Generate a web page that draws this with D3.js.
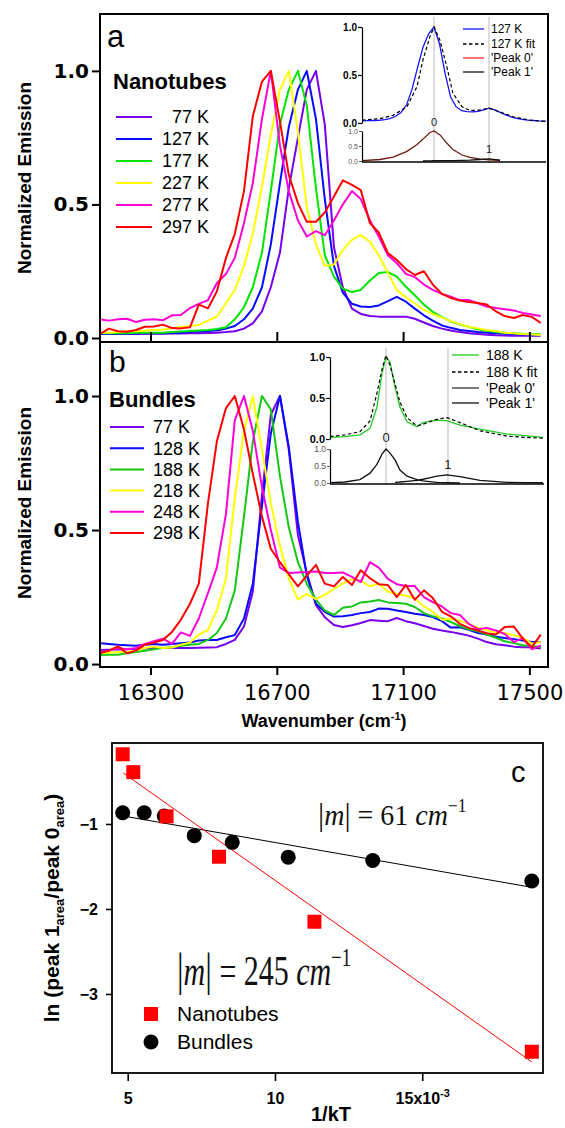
<!DOCTYPE html>
<html>
<head>
<meta charset="utf-8">
<script src="https://cdnjs.cloudflare.com/ajax/libs/d3/7.8.5/d3.min.js"></script>
<style>
  body { margin: 0; background: #fff; }
  svg { display: block; }
</style>
</head>
<body>
<svg id="chart" width="565" height="1128"></svg>
<script>
const svg = d3.select('#chart');

const sans = '"Liberation Sans", Arial, sans-serif';
const wide = '"DejaVu Sans", Verdana, sans-serif';
const serif = '"Liberation Serif", "Times New Roman", serif';

// ---------- data ----------
// shared wavenumber grid (cm-1) for the emission spectra
const wavenumber = [16140, 16168, 16197, 16225, 16254, 16282, 16311, 16339, 16368, 16396,
  16425, 16453, 16482, 16510, 16539, 16567, 16596, 16624, 16653, 16681,
  16710, 16738, 16767, 16795, 16824, 16852, 16881, 16909, 16938, 16966,
  16995, 17023, 17052, 17080, 17109, 17137, 17166, 17194, 17223, 17251,
  17280, 17308, 17337, 17365, 17394, 17422, 17451, 17479, 17508, 17536];

// panel a: nanotubes
const tubeLabels = ['77 K', '127 K', '177 K', '227 K', '277 K', '297 K'];
const tube77 = [0.015, 0.015, 0.015, 0.015, 0.015, 0.016, 0.016, 0.016, 0.017, 0.017,
  0.018, 0.018, 0.019, 0.02, 0.022, 0.025, 0.035, 0.055, 0.10, 0.19,
  0.32, 0.56, 0.75, 0.93, 1.0, 0.80, 0.34, 0.19, 0.11, 0.09,
  0.082, 0.08, 0.08, 0.08, 0.08, 0.072, 0.058, 0.045, 0.035, 0.028,
  0.022, 0.018, 0.015, 0.012, 0.01, 0.009, 0.008, 0.008, 0.008, 0.008];
const tube127 = [0.015, 0.015, 0.016, 0.016, 0.017, 0.017, 0.018, 0.018, 0.019, 0.02,
  0.022, 0.024, 0.026, 0.028, 0.035, 0.045, 0.07, 0.11, 0.19, 0.35,
  0.58, 0.79, 0.93, 1.0, 0.82, 0.52, 0.27, 0.17, 0.128, 0.118,
  0.116, 0.122, 0.138, 0.154, 0.136, 0.11, 0.085, 0.065, 0.047, 0.038,
  0.03, 0.026, 0.022, 0.02, 0.018, 0.016, 0.015, 0.013, 0.012, 0.011];
const tube177 = [0.018, 0.018, 0.018, 0.018, 0.02, 0.02, 0.02, 0.02, 0.022, 0.024,
  0.026, 0.028, 0.03, 0.034, 0.04, 0.07, 0.115, 0.19, 0.32, 0.55,
  0.80, 0.93, 1.0, 0.87, 0.56, 0.31, 0.23, 0.185, 0.172, 0.18,
  0.215, 0.243, 0.247, 0.23, 0.192, 0.16, 0.125, 0.098, 0.078, 0.062,
  0.05, 0.042, 0.033, 0.027, 0.022, 0.02, 0.018, 0.016, 0.015, 0.014];
const tube227 = [0.02, 0.02, 0.022, 0.025, 0.025, 0.027, 0.03, 0.032, 0.036, 0.041,
  0.045, 0.049, 0.065, 0.08, 0.13, 0.18, 0.27, 0.39, 0.566, 0.76,
  0.93, 1.0, 0.77, 0.49, 0.35, 0.27, 0.275, 0.33, 0.367, 0.386,
  0.36, 0.31, 0.243, 0.18, 0.152, 0.13, 0.105, 0.09, 0.076, 0.063,
  0.052, 0.042, 0.036, 0.03, 0.026, 0.02, 0.018, 0.015, 0.013, 0.011];
const tube277 = [0.07, 0.065, 0.07, 0.072, 0.06, 0.068, 0.07, 0.066, 0.085, 0.086,
  0.112, 0.128, 0.142, 0.205, 0.24, 0.30, 0.43, 0.58, 0.82, 1.0,
  0.72, 0.55, 0.44, 0.38, 0.40, 0.385, 0.44, 0.50, 0.55, 0.52,
  0.44, 0.38, 0.31, 0.28, 0.24, 0.228, 0.20, 0.18, 0.165, 0.155,
  0.142, 0.142, 0.13, 0.118, 0.112, 0.108, 0.103, 0.094, 0.088, 0.082];
const tube297 = [0.015, 0.035, 0.025, 0.023, 0.03, 0.042, 0.043, 0.05, 0.037, 0.036,
  0.04, 0.125, 0.111, 0.174, 0.30, 0.39, 0.55, 0.83, 0.96, 1.0,
  0.81, 0.61, 0.505, 0.435, 0.435, 0.47, 0.53, 0.59, 0.573, 0.554,
  0.43, 0.395, 0.318, 0.292, 0.258, 0.236, 0.25, 0.20, 0.165, 0.15,
  0.14, 0.135, 0.131, 0.125, 0.10, 0.082, 0.075, 0.086, 0.079, 0.056];

// panel b: bundles
const bundleLabels = ['77 K', '128 K', '188 K', '218 K', '248 K', '298 K'];
const bundle77 = [0.052, 0.053, 0.054, 0.055, 0.056, 0.058, 0.06, 0.06, 0.06, 0.06,
  0.06, 0.061, 0.062, 0.063, 0.075, 0.09, 0.14, 0.27, 0.63, 0.93,
  1.0, 0.80, 0.48, 0.34, 0.22, 0.175, 0.146, 0.138, 0.145, 0.153,
  0.164, 0.162, 0.16, 0.172, 0.16, 0.152, 0.142, 0.132, 0.125, 0.12,
  0.113, 0.106, 0.095, 0.082, 0.074, 0.07, 0.065, 0.063, 0.063, 0.058];
const bundle128 = [0.078, 0.075, 0.072, 0.07, 0.068, 0.072, 0.075, 0.072, 0.075, 0.078,
  0.08, 0.088, 0.09, 0.09, 0.1, 0.108, 0.17, 0.30, 0.59, 0.86,
  1.0, 0.81, 0.53, 0.33, 0.225, 0.195, 0.177, 0.178, 0.183, 0.19,
  0.194, 0.207, 0.206, 0.2, 0.194, 0.188, 0.183, 0.175, 0.16, 0.136,
  0.137, 0.128, 0.116, 0.11, 0.102, 0.097, 0.093, 0.088, 0.082, 0.082];
const bundle188 = [0.034, 0.035, 0.035, 0.04, 0.045, 0.05, 0.055, 0.06, 0.063, 0.068,
  0.072, 0.075, 0.09, 0.116, 0.17, 0.275, 0.55, 0.83, 1.0, 0.95,
  0.70, 0.51, 0.38, 0.30, 0.24, 0.20, 0.183, 0.21, 0.215, 0.23,
  0.233, 0.239, 0.23, 0.228, 0.225, 0.213, 0.19, 0.178, 0.17, 0.157,
  0.142, 0.13, 0.122, 0.11, 0.098, 0.085, 0.078, 0.07, 0.067, 0.064];
const bundle218 = [0.04, 0.042, 0.045, 0.045, 0.05, 0.06, 0.065, 0.06, 0.062, 0.072,
  0.08, 0.11, 0.127, 0.20, 0.32, 0.62, 0.87, 1.0, 0.80, 0.60,
  0.44, 0.32, 0.24, 0.262, 0.242, 0.258, 0.28, 0.30, 0.317, 0.31,
  0.29, 0.30, 0.27, 0.262, 0.255, 0.245, 0.215, 0.195, 0.165, 0.17,
  0.162, 0.15, 0.137, 0.126, 0.118, 0.116, 0.108, 0.098, 0.076, 0.082];
const bundle248 = [0.045, 0.05, 0.06, 0.055, 0.06, 0.075, 0.085, 0.095, 0.075, 0.118,
  0.105, 0.17, 0.265, 0.36, 0.56, 0.91, 1.0, 0.87, 0.66, 0.50,
  0.36, 0.34, 0.342, 0.343, 0.345, 0.34, 0.34, 0.342, 0.325, 0.306,
  0.38, 0.36, 0.318, 0.298, 0.291, 0.291, 0.25, 0.231, 0.215, 0.19,
  0.183, 0.15, 0.13, 0.135, 0.125, 0.112, 0.082, 0.097, 0.055, 0.07];
const bundle298 = [0.04, 0.05, 0.066, 0.04, 0.05, 0.072, 0.08, 0.09, 0.12, 0.165,
  0.225, 0.30, 0.60, 0.83, 0.955, 1.0, 0.875, 0.71, 0.55, 0.43,
  0.38, 0.335, 0.29, 0.33, 0.37, 0.30, 0.29, 0.325, 0.295, 0.35,
  0.32, 0.298, 0.295, 0.25, 0.295, 0.24, 0.275, 0.246, 0.195, 0.178,
  0.15, 0.135, 0.125, 0.115, 0.11, 0.138, 0.14, 0.095, 0.063, 0.11];

const tempColors = ['#7800ee', '#0a0aff', '#00e600', '#ffff00', '#ff00d8', '#ff0000'];
const tempColorsB = ['#7800ee', '#0a0aff', '#14c814', '#ffff00', '#ff00d8', '#ff0000'];

// inset a: 127 K fit (measured curve is tube127)
const insetAWn = [16422, 16515, 16583, 16655, 16707, 16738, 16774, 16795, 16826, 16862,
  16893, 16940, 16982, 17033, 17080, 17137, 17204, 17292, 17375];
const insetAFit = [0.03, 0.045, 0.08, 0.17, 0.38, 0.66, 0.9, 1.0, 0.86, 0.58,
  0.31, 0.17, 0.13, 0.135, 0.155, 0.115, 0.065, 0.03, 0.015];
const insetAPeak0 = [0.01, 0.05, 0.13, 0.32, 0.55, 0.73, 0.95, 1.0, 0.87, 0.59,
  0.38, 0.2, 0.12, 0.06, 0.04, 0.02, null, null, null];
const insetAPeak1 = [null, null, null, null, null, 0.0, 0.005, 0.008, 0.01, 0.012,
  0.015, 0.02, 0.03, 0.05, 0.07, 0.03, null, null, null];
const insetAPeakPos = [16795, 17080];
const insetALegend = ['127 K', '127 K fit', "'Peak 0'", "'Peak 1'"];

// inset b: 188 K bundles, measured + fit
const insetBWn = [16232, 16345, 16457, 16533, 16585, 16623, 16653, 16683, 16721, 16758,
  16811, 16886, 16931, 16980, 17036, 17112, 17209, 17360, 17563, 17698, 17833];
const insetBData = [0.02, 0.03, 0.05, 0.13, 0.39, 0.80, 1.0, 0.94, 0.63, 0.39,
  0.21, 0.15, 0.20, 0.215, 0.23, 0.22, 0.17, 0.12, 0.06, 0.04, 0.02];
const insetBFit = [0.03, 0.05, 0.09, 0.22, 0.56, 0.85, 1.02, 0.9, 0.67, 0.45,
  0.26, 0.16, 0.18, 0.21, 0.24, 0.26, 0.2, 0.1, 0.035, 0.02, 0.01];
const insetBPeak0 = [0.01, 0.03, 0.1, 0.29, 0.55, 0.85, 1.0, 0.88, 0.68, 0.38,
  0.2, 0.1, 0.06, 0.04, 0.02, 0.01, 0.0, null, null, null, null];
const insetBPeak1 = [null, null, null, null, null, null, null, null, 0.02, 0.03,
  0.05, 0.08, 0.11, 0.15, 0.2, 0.24, 0.19, 0.08, 0.02, 0.012, 0.008];
const insetBPeakPos = [16653, 17119];
const insetBLegend = ['188 K', '188 K fit', "'Peak 0'", "'Peak 1'"];

// panel c: ln(peak1 area / peak0 area) vs 1/kT (x 10^-3 cm)
const nanoInvKT = [4.83, 5.19, 6.32, 8.10, 11.34, 18.72];
const nanoLnRatio = [-0.18, -0.39, -0.91, -1.385, -2.15, -3.68];
const bundleInvKT = [4.83, 5.56, 6.24, 7.26, 8.55, 10.45, 13.32, 18.72];
const bundleLnRatio = [-0.867, -0.867, -0.906, -1.137, -1.216, -1.39, -1.43, -1.67];
const fitInvKT = [4.85, 18.72];
const nanoFitLn = [-0.40, -3.80];
const bundleFitLn = [-0.906, -1.745];
const slopeValues = [61, 245];

// ---------- helpers ----------
function styleAxis(g, font, size, weight, width, color) {
  g.select('.domain').remove();
  g.selectAll('.tick line').attr('stroke-width', width).attr('stroke', '#000');
  g.selectAll('.tick text')
    .attr('font-family', font)
    .attr('font-size', size)
    .attr('font-weight', weight)
    .attr('fill', color || '#000');
}

const x = d3.scaleLinear().domain([16140, 17559]).range([100, 548]);
const yA = d3.scaleLinear().domain([-0.015, 1.213]).range([342, 14]);
const yB = d3.scaleLinear().domain([-0.011, 1.2015]).range([667, 342]);

const defs = svg.append('defs');

function spectraPanel(yScale, series, colors, top, bottom, id) {
  defs.append('clipPath').attr('id', id)
    .append('rect').attr('x', 101).attr('y', top).attr('width', 446).attr('height', bottom - top);
  const line = d3.line()
    .x((d, i) => x(wavenumber[i]))
    .y(d => yScale(d));
  svg.append('g')
    .attr('clip-path', `url(#${id})`)
    .selectAll('path')
    .data(series)
    .join('path')
    .attr('d', line)
    .attr('fill', 'none')
    .attr('stroke', (d, i) => colors[i])
    .attr('stroke-width', 2)
    .attr('stroke-linejoin', 'round');
}

spectraPanel(yA, [tube77, tube127, tube177, tube227, tube277, tube297], tempColors, 15, 341, 'clipA');
spectraPanel(yB, [bundle77, bundle128, bundle188, bundle218, bundle248, bundle298], tempColorsB, 343, 666, 'clipB');

// frames
svg.append('rect').attr('x', 100).attr('y', 14).attr('width', 448).attr('height', 328)
  .attr('fill', 'none').attr('stroke', '#000').attr('stroke-width', 2);
svg.append('rect').attr('x', 100).attr('y', 342).attr('width', 448).attr('height', 325)
  .attr('fill', 'none').attr('stroke', '#000').attr('stroke-width', 2);

// y axes a, b
[yA, yB].forEach(ys => {
  const g = svg.append('g').attr('transform', 'translate(100,0)')
    .call(d3.axisLeft(ys).tickValues([0, 0.5, 1]).tickFormat(d3.format('.1f')).tickSize(8).tickPadding(3));
  styleAxis(g, wide, 20, 'bold', 2);
});

// x axis: inner ticks on a, labelled ticks on b
const xTicks = [16300, 16700, 17100, 17500];
const gxa = svg.append('g').attr('transform', 'translate(0,342)')
  .call(d3.axisBottom(x).tickValues(xTicks).tickSize(-10).tickFormat(''));
styleAxis(gxa, wide, 20, 'normal', 2);
const gxb = svg.append('g').attr('transform', 'translate(0,667)')
  .call(d3.axisBottom(x).tickValues(xTicks).tickSize(8).tickPadding(10).tickFormat(d3.format('d')));
styleAxis(gxb, wide, 21, 'normal', 2);

// axis titles
[178, 503].forEach(cy => {
  svg.append('text')
    .attr('transform', `translate(31,${cy}) rotate(-90)`)
    .attr('text-anchor', 'middle')
    .attr('font-family', sans).attr('font-weight', 'bold').attr('font-size', 19)
    .text('Normalized Emission');
});
const xt = svg.append('text').attr('x', 324).attr('y', 727)
  .attr('text-anchor', 'middle')
  .attr('font-family', sans).attr('font-weight', 'bold').attr('font-size', 18);
xt.append('tspan').text('Wavenumber (cm');
xt.append('tspan').text('-1').attr('font-size', 11).attr('dy', -7);
xt.append('tspan').text(')').attr('dy', 7);

// panel letters
svg.append('text').attr('x', 107).attr('y', 47).attr('font-family', sans).attr('font-size', 31).text('a');
svg.append('text').attr('x', 109).attr('y', 372).attr('font-family', sans).attr('font-size', 30).text('b');

// legends a, b
function tempLegend(title, tx, ty, labels, colors, y0, dy, lx0, lx1, textX, anchor) {
  svg.append('text').attr('x', tx).attr('y', ty)
    .attr('font-family', sans).attr('font-weight', 'bold').attr('font-size', 22)
    .text(title);
  const rows = svg.append('g').selectAll('g').data(labels).join('g')
    .attr('transform', (d, i) => `translate(0,${y0 + i * dy})`);
  rows.append('line').attr('x1', lx0).attr('x2', lx1)
    .attr('stroke', (d, i) => colors[i]).attr('stroke-width', 2);
  rows.append('text').attr('x', textX).attr('dy', '0.36em')
    .attr('text-anchor', anchor)
    .attr('font-family', sans).attr('font-size', 18)
    .text(d => d);
}
tempLegend('Nanotubes', 113, 89, tubeLabels, tempColors, 117, 22, 116, 152, 209, 'end');
tempLegend('Bundles', 109, 407, bundleLabels, tempColorsB, 427, 21.2, 110, 144, 153, 'start');

// ---------- insets ----------
function inset(cfg) {
  const xs = d3.scaleLinear().domain(cfg.xDomain).range([cfg.left, cfg.right]);
  const yTop = d3.scaleLinear().domain([0, 1]).range(cfg.topRange);
  const yLow = d3.scaleLinear().domain([0, 1]).range(cfg.lowRange);

  // guide lines at peak positions
  svg.append('g').selectAll('line').data(cfg.peakPos).join('line')
    .attr('x1', d => xs(d)).attr('x2', d => xs(d))
    .attr('y1', cfg.guideTop).attr('y2', cfg.lowRange[0] + 1)
    .attr('stroke', '#d2d2d2').attr('stroke-width', 1.5);

  svg.append('g').selectAll('text').data(['0', '1']).join('text')
    .attr('x', (d, i) => xs(cfg.peakPos[i]))
    .attr('y', (d, i) => cfg.peakLabelY[i])
    .attr('text-anchor', 'middle')
    .attr('font-family', sans).attr('font-size', cfg.peakFont)
    .attr('fill', '#222')
    .text(d => d);

  const cid = cfg.id;
  defs.append('clipPath').attr('id', cid)
    .append('rect').attr('x', cfg.left).attr('y', cfg.topRange[1] - 12)
    .attr('width', cfg.right - cfg.left).attr('height', cfg.topRange[0] - cfg.topRange[1] + 14);

  const line = (wn, ys) => d3.line()
    .defined(d => d != null)
    .x((d, i) => xs(wn[i]))
    .y(d => ys(d));

  const gTop = svg.append('g').attr('clip-path', `url(#${cid})`);
  gTop.append('path').attr('d', line(cfg.dataWn, yTop)(cfg.data))
    .attr('fill', 'none').attr('stroke', cfg.dataColor).attr('stroke-width', 1.3);
  gTop.append('path').attr('d', line(cfg.fitWn, yTop)(cfg.fit))
    .attr('fill', 'none').attr('stroke', '#000').attr('stroke-width', 1.2)
    .attr('stroke-dasharray', '3.5,2.5');

  svg.append('path').attr('d', line(cfg.fitWn, yLow)(cfg.peak0))
    .attr('fill', 'none').attr('stroke', cfg.peak0Color).attr('stroke-width', 1.3);
  svg.append('path').attr('d', line(cfg.fitWn, yLow)(cfg.peak1))
    .attr('fill', 'none').attr('stroke', '#111').attr('stroke-width', 1.3);

  const ga = svg.append('g').attr('transform', `translate(${cfg.left},0)`)
    .call(d3.axisLeft(yTop).tickValues([0, 0.5, 1]).tickFormat(d3.format('.1f'))
      .tickSize(4).tickSizeOuter(0).tickPadding(1));
  ga.select('.domain').attr('stroke-width', 1.2);
  ga.selectAll('.tick line').attr('stroke-width', 1.2);
  ga.selectAll('.tick text').attr('font-family', sans).attr('font-weight', 'bold')
    .attr('font-size', cfg.tickFont).attr('fill', '#000');

  const gl = svg.append('g').attr('transform', `translate(${cfg.left},0)`)
    .call(d3.axisLeft(yLow).tickValues([0, 0.5, 1]).tickFormat(d3.format('.1f'))
      .tickSize(3).tickSizeOuter(0).tickPadding(1));
  gl.select('.domain').attr('stroke-width', 1.2);
  gl.selectAll('.tick line').attr('stroke', '#555');
  gl.selectAll('.tick text').attr('font-family', sans)
    .attr('font-size', cfg.lowFont).attr('fill', '#555');

  svg.append('line').attr('x1', cfg.left).attr('x2', cfg.right)
    .attr('y1', cfg.lowRange[0] + 1).attr('y2', cfg.lowRange[0] + 1)
    .attr('stroke', '#000').attr('stroke-width', 1.6);

  // legend
  const colors = [cfg.dataColor, '#000', cfg.legendPeak0Color, '#111'];
  const rows = svg.append('g').selectAll('g').data(cfg.legend).join('g')
    .attr('transform', (d, i) => `translate(0,${cfg.legY[i]})`);
  rows.append('line').attr('x1', cfg.legX[0]).attr('x2', cfg.legX[1])
    .attr('stroke', (d, i) => colors[i]).attr('stroke-width', 1.3)
    .attr('stroke-dasharray', (d, i) => i === 1 ? '3.5,2.5' : null);
  rows.append('text').attr('x', cfg.legX[2]).attr('dy', '0.36em')
    .attr('font-family', sans).attr('font-size', cfg.legFont)
    .text(d => d);
}

inset({
  id: 'clipInA', left: 362, right: 546, xDomain: [16422, 17375],
  topRange: [123, 27], lowRange: [161, 131], guideTop: 17,
  dataWn: wavenumber, data: tube127, dataColor: '#1414ff',
  fitWn: insetAWn, fit: insetAFit, peak0: insetAPeak0, peak1: insetAPeak1,
  peak0Color: '#6e1a10', legendPeak0Color: '#ff2a2a',
  peakPos: insetAPeakPos, peakLabelY: [126, 153], peakFont: 11,
  tickFont: 10, lowFont: 7,
  legend: insetALegend, legY: [29, 44, 58, 72], legX: [463, 484, 491], legFont: 12
});

inset({
  id: 'clipInB', left: 330, right: 544, xDomain: [16232, 17841],
  topRange: [439, 357], lowRange: [483, 449], guideTop: 348,
  dataWn: insetBWn, data: insetBData, dataColor: '#22cc22',
  fitWn: insetBWn, fit: insetBFit, peak0: insetBPeak0, peak1: insetBPeak1,
  peak0Color: '#111', legendPeak0Color: '#333',
  peakPos: insetBPeakPos, peakLabelY: [442, 469], peakFont: 13,
  tickFont: 11, lowFont: 8.5,
  legend: insetBLegend, legY: [355, 372, 388, 403], legX: [452, 479, 486], legFont: 14
});

// ---------- panel c ----------
const xC = d3.scaleLinear().domain([4.467, 19.10]).range([112, 543]);
const yC = d3.scaleLinear().domain([-3.93, -0.047]).range([1073, 743]);

svg.append('rect').attr('x', 112).attr('y', 743).attr('width', 431).attr('height', 330)
  .attr('fill', 'none').attr('stroke', '#000').attr('stroke-width', 1.8);

const gcy = svg.append('g').attr('transform', 'translate(112,0)')
  .call(d3.axisLeft(yC).tickValues([-1, -2, -3]).tickSize(6).tickPadding(8).tickFormat(d3.format('d')));
styleAxis(gcy, sans, 16, 'bold', 1.6);
const gcx = svg.append('g').attr('transform', 'translate(0,1073)')
  .call(d3.axisBottom(xC).tickValues([5, 10, 15]).tickSize(8).tickPadding(12)
    .tickFormat(d => d === 15 ? '15x10' : d));
styleAxis(gcx, sans, 16, 'bold', 1.6);
gcx.selectAll('.tick text').filter(d => d === 15)
  .append('tspan').text('-3').attr('font-size', 11).attr('dy', -7);

// fit lines
const fitLine = d3.line().x((d, i) => xC(fitInvKT[i])).y(d => yC(d));
svg.append('path').attr('d', fitLine(bundleFitLn)).attr('fill', 'none')
  .attr('stroke', '#000').attr('stroke-width', 1);
svg.append('path').attr('d', fitLine(nanoFitLn)).attr('fill', 'none')
  .attr('stroke', '#ff0000').attr('stroke-width', 1);

svg.append('g').selectAll('circle').data(bundleLnRatio).join('circle')
  .attr('cx', (d, i) => xC(bundleInvKT[i])).attr('cy', d => yC(d))
  .attr('r', 7.5).attr('fill', '#000');
svg.append('g').selectAll('rect').data(nanoLnRatio).join('rect')
  .attr('x', (d, i) => xC(nanoInvKT[i]) - 7).attr('y', d => yC(d) - 7)
  .attr('width', 14).attr('height', 14).attr('fill', '#ff0000');

// slope labels
function slopeLabel(value, tx, ty, fs, sy) {
  const t = svg.append('text')
    .attr('transform', `translate(${tx},${ty}) scale(1,${sy})`)
    .attr('font-family', serif).attr('font-size', fs).attr('fill', '#111');
  t.append('tspan').text('|').attr('font-size', fs * 1.1);
  t.append('tspan').text('m').attr('font-style', 'italic');
  t.append('tspan').text('|').attr('font-size', fs * 1.1);
  t.append('tspan').text(` = ${value} `);
  t.append('tspan').text('cm').attr('font-style', 'italic');
  t.append('tspan').text('\u22121').attr('font-size', fs * 0.62).attr('dy', -fs * 0.45);
}
slopeLabel(slopeValues[0], 318, 825, 28, 1.05);
slopeLabel(slopeValues[1], 177, 985, 30, 1.4);

svg.append('text').attr('x', 511).attr('y', 782).attr('font-family', sans).attr('font-size', 29).text('c');

// legend c
svg.append('rect').attr('x', 144).attr('y', 1007).attr('width', 14).attr('height', 14).attr('fill', '#ff0000');
svg.append('circle').attr('cx', 151).attr('cy', 1042).attr('r', 7.5).attr('fill', '#000');
svg.append('text').attr('x', 177).attr('y', 1021).attr('font-family', sans).attr('font-size', 21).text('Nanotubes');
svg.append('text').attr('x', 177).attr('y', 1049).attr('font-family', sans).attr('font-size', 21).text('Bundles');

// axis titles c
const yt = svg.append('text')
  .attr('transform', 'translate(59,908) rotate(-90)')
  .attr('text-anchor', 'middle')
  .attr('font-family', sans).attr('font-weight', 'bold').attr('font-size', 21);
yt.append('tspan').text('ln (peak 1');
yt.append('tspan').text('area').attr('font-size', 13).attr('dy', 5);
yt.append('tspan').text('/peak 0').attr('dy', -5);
yt.append('tspan').text('area').attr('font-size', 13).attr('dy', 5);
yt.append('tspan').text(')').attr('dy', -5);

svg.append('text').attr('x', 331).attr('y', 1121).attr('text-anchor', 'middle')
  .attr('font-family', sans).attr('font-weight', 'bold').attr('font-size', 20).text('1/kT');
</script>
</body>
</html>
